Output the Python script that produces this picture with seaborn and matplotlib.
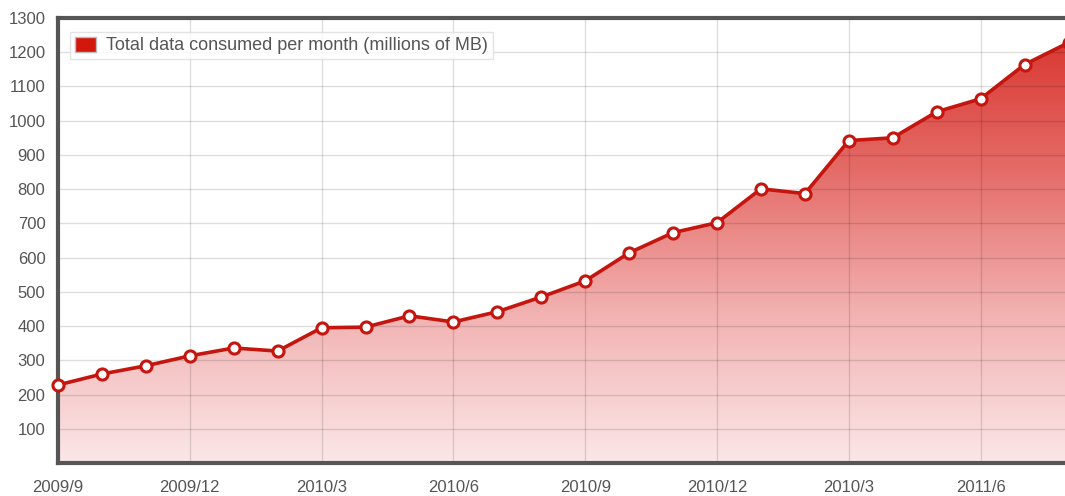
import matplotlib
matplotlib.use("Agg")
import matplotlib.pyplot as plt
import numpy as np
import pandas as pd
import seaborn as sns
from matplotlib.colors import LinearSegmentedColormap
from matplotlib.patches import Patch

# monthly values, 2009/9 .. 2011/8
month_index = list(range(24))
consumed = [228, 260, 284, 313, 336, 327, 395, 397, 430, 412, 442, 485,
            532, 614, 673, 702, 801, 787, 942, 950, 1026, 1064, 1164, 1228]
tick_pos = [0, 3, 6, 9, 12, 15, 18, 21]
tick_labels = ["2009/9", "2009/12", "2010/3", "2010/6", "2010/9",
               "2010/12", "2010/3", "2011/6"]
y_ticks = [100, 200, 300, 400, 500, 600, 700, 800, 900, 1000, 1100, 1200, 1300]
series_name = "Total data consumed per month (millions of MB)"

df = pd.DataFrame({"month": month_index, "value": consumed})

sns.set_style("white")
plt.rcParams["font.family"] = ["Liberation Sans", "DejaVu Sans"]

fig = plt.figure(figsize=(10.65, 4.96), dpi=100)
ax = fig.add_axes([58 / 1065, 33 / 496, 1 - 58 / 1065, 445 / 496])

X_MAX = 22.92

# gradient area under the line
poly = ax.fill_between(df["month"], df["value"], 0, color="none", lw=0)
cmap = LinearSegmentedColormap.from_list("fade", ["#fbe7e8", "#f2b2b2", "#e46a66", "#d8302a"])
grad = np.linspace(0, 1, 256).reshape(-1, 1)
im = ax.imshow(grad, extent=[0, 23, 0, 1300], origin="lower", aspect="auto",
               cmap=cmap, zorder=1)
im.set_clip_path(poly.get_paths()[0], transform=ax.transData)

# grid
for y in y_ticks:
    ax.axhline(y, color="black", alpha=0.13, lw=1, zorder=2)
for x in tick_pos:
    ax.axvline(x, color="black", alpha=0.13, lw=1, zorder=2)

sns.lineplot(data=df, x="month", y="value", ax=ax, color="#c4150e", lw=2.6,
             marker="o", markersize=8, markerfacecolor="white",
             markeredgecolor="#c4150e", markeredgewidth=2.2, zorder=6,
             clip_on=False)
ax.set_xlim(0, X_MAX)
ax.set_ylim(0, 1300)

ax.set_xticks(tick_pos)
ax.set_xticklabels(tick_labels)
ax.set_yticks(y_ticks)
ax.set_xlabel("")
ax.set_ylabel("")
ax.tick_params(axis="both", labelsize=12, labelcolor="#555555", length=0)
ax.tick_params(axis="x", pad=12)
ax.tick_params(axis="y", pad=9)

for side in ["left", "bottom", "top"]:
    ax.spines[side].set_color("#555555")
    ax.spines[side].set_linewidth(3)
    ax.spines[side].set_zorder(5)
ax.spines["right"].set_visible(False)

handle = Patch(facecolor="#d4170d", edgecolor="#bbbbbb", lw=1)
leg = ax.legend([handle], [series_name], loc="upper left",
                bbox_to_anchor=(0.012, 0.968), borderaxespad=0, fontsize=13,
                frameon=True, fancybox=False, handlelength=1.2, handleheight=0.9,
                handletextpad=0.55, borderpad=0.25, labelcolor="#555555")
leg.get_frame().set_edgecolor("#dddddd")
leg.get_frame().set_linewidth(1)

fig.savefig("out.png", dpi=100)
